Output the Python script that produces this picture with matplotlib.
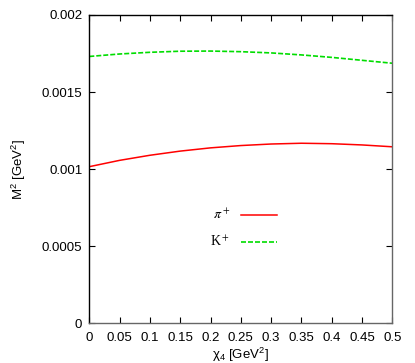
import matplotlib
matplotlib.use("Agg")
import matplotlib.pyplot as plt
from matplotlib.font_manager import FontProperties

plt.rcParams['font.family'] = ['Liberation Sans', 'DejaVu Sans']
plt.rcParams['mathtext.fontset'] = 'custom'
plt.rcParams['mathtext.rm'] = 'Liberation Sans'
plt.rcParams['mathtext.it'] = 'Liberation Sans:italic'

# values (x = chi_4 in GeV^2, y = M^2 in GeV^2)
chi4 = [0.0, 0.05, 0.1, 0.15, 0.2, 0.25, 0.3, 0.35, 0.4, 0.45, 0.5]
m2_pion = [0.001016, 0.001057, 0.001090, 0.001117, 0.001138, 0.001153,
           0.001163, 0.001168, 0.001165, 0.001157, 0.001145]
m2_kaon = [0.001731, 0.001747, 0.001758, 0.001765, 0.001766, 0.001762,
           0.001754, 0.001741, 0.001725, 0.001706, 0.001687]

xticks = [0, 0.05, 0.1, 0.15, 0.2, 0.25, 0.3, 0.35, 0.4, 0.45, 0.5]
xticklabels = ["0", "0.05", "0.1", "0.15", "0.2", "0.25", "0.3", "0.35", "0.4", "0.45", "0.5"]
yticks = [0, 0.0005, 0.001, 0.0015, 0.002]
yticklabels = ["0", "0.0005", "0.001", "0.0015", "0.002"]

fig = plt.figure(figsize=(4.15, 3.63), dpi=100)
ax = fig.add_axes([0.2152, 0.1094, 0.7301, 0.8493])

ax.plot(chi4, m2_pion, color='#ff0000', lw=1.1, label=r'$\pi^+$')
ax.plot(chi4, m2_kaon, color='#00dd00', lw=1.2, dashes=(3, 1.2), label=r'K$^+$')

ax.set_xlim(0, 0.5)
ax.set_ylim(0, 0.002)
ax.set_xticks(xticks)
ax.set_xticklabels(xticklabels)
ax.set_yticks(yticks)
ax.set_yticklabels(yticklabels)
ax.tick_params(direction='in', length=4, width=0.8, top=True, right=True,
               labelsize=9.5, pad=5)
ax.tick_params(axis='x', pad=6)

for s in ['left', 'top']:
    ax.spines[s].set_color('black')
for s in ['right', 'bottom']:
    ax.spines[s].set_color('#666666')
for s in ax.spines.values():
    s.set_linewidth(1.0)

ax.set_xlabel(u'\u03c7$_4$ [GeV$^2$]', fontsize=9.5, labelpad=1.5)
ax.set_ylabel(r'M$^2$ [GeV$^2$]', fontsize=9.5, labelpad=10)

leg_font = FontProperties(family='Liberation Serif', size=10, math_fontfamily='stix')
ax.legend(loc='center', bbox_to_anchor=(0.51, 0.307), frameon=False,
          markerfirst=False, prop=leg_font, handlelength=2.6,
          handletextpad=0.8, labelspacing=0.9, borderpad=0)

fig.savefig('out.png', dpi=100)
